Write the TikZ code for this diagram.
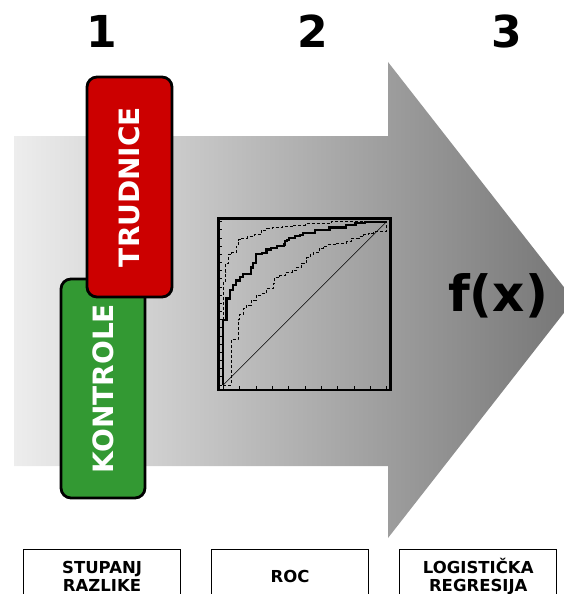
\documentclass[tikz,border=0pt]{standalone}
\usepackage{fontspec}
\setmainfont{DejaVu Sans}
\usetikzlibrary{positioning}

\definecolor{redbox}{RGB}{204,0,0}
\definecolor{greenbox}{RGB}{51,153,51}

\tikzset{
  numlabel/.style={font=\bfseries\fontsize{44}{44}\selectfont, inner sep=0pt},
  groupbox/.style={draw=black, line width=2.8pt, rounded corners=10pt, rotate=90,
    minimum width=219pt, minimum height=84pt, inner sep=0pt, text=white,
    font=\bfseries\fontsize{28}{28}\selectfont},
  tabbox/.style={draw=black, line width=1.1pt, minimum width=157pt, minimum height=53pt,
    inner sep=0pt, align=center, font=\bfseries\fontsize{16.5}{18}\selectfont},
  rocline/.style={line width=0.6pt, densely dashed}
}

\begin{document}
\begin{tikzpicture}[x=1pt,y=-1pt]
      \useasboundingbox (0,0) rectangle (564,594);

      % big arrow
      \shade[left color=black!7,middle color=black!40,right color=black!54] (14,136) -- (388,136)
        -- (388,62) -- (574,300) -- (388,538) -- (388,466) -- (14,466) -- cycle;

      \node[numlabel] (num1) at (102,31) {1};
      \node[numlabel] (num2) at (313,31) {2};
      \node[numlabel] (num3) at (507,31) {3};

      \node[groupbox,fill=greenbox] (kontrole) at (103,388.5) {KONTROLE};
      \node[groupbox,fill=redbox,minimum width=220pt,minimum height=85pt] (trudnice) at (129.5,187) {TRUDNICE};

      % ROC plot
      \begin{scope}[shift={(223.3,385)},x=163.3pt,y=163.3pt]
        \draw[line width=2.5pt] (-0.03,-0.03) rectangle (1.025,1.02);
        \foreach \i in {0,...,10}
          \draw[line width=0.8pt] ({\i/10},-0.03) -- ({\i/10},-0.008);
        \foreach \i in {0,...,20}
          \draw[line width=0.8pt] (-0.03,{\i/20}) -- (-0.005,{\i/20});

        \draw[line width=0.5pt] (0,0) -- (1,1);

        \draw[rocline] (0,0) |- (0.01,0.63) |- (0.015,0.69) |- (0.03,0.745) |- (0.05,0.80)
          |- (0.08,0.81) |- (0.09,0.85) |- (0.11,0.89) |- (0.15,0.90) |- (0.19,0.91)
          |- (0.235,0.92) |- (0.265,0.95) |- (0.30,0.96) |- (0.36,0.965) |- (0.42,0.97)
          |- (0.50,0.98) |- (0.66,0.99) |- (0.87,1) -- (1,1);

        \draw[rocline] (0,0) -- (0.05,0) |- (0.09,0.28) |- (0.10,0.40) |- (0.12,0.43)
          |- (0.14,0.47) |- (0.17,0.49) |- (0.20,0.52) |- (0.235,0.55) |- (0.265,0.56)
          |- (0.305,0.59) |- (0.315,0.62) |- (0.345,0.66) |- (0.38,0.67) |- (0.42,0.69)
          |- (0.45,0.70) |- (0.48,0.72) |- (0.51,0.745) |- (0.53,0.78) |- (0.55,0.80)
          |- (0.59,0.81) |- (0.61,0.84) |- (0.64,0.85) |- (0.69,0.86) |- (0.755,0.87)
          |- (0.785,0.88) |- (0.83,0.90) |- (0.86,0.91) |- (0.89,0.92) |- (0.92,0.93)
          |- (0.95,0.94) -- (1,0.94) -- (1,1);

        \draw[line width=2.2pt] (0,0) |- (0.02,0.40) |- (0.02,0.50) |- (0.04,0.53) |- (0.06,0.58)
          |- (0.08,0.61) |- (0.10,0.64) |- (0.12,0.66) |- (0.13,0.68) |- (0.17,0.68)
          |- (0.18,0.72) |- (0.20,0.745) |- (0.21,0.80) |- (0.235,0.80) |- (0.265,0.81)
          |- (0.29,0.83) |- (0.33,0.84) |- (0.37,0.85) |- (0.38,0.86) |- (0.39,0.88)
          |- (0.40,0.89) |- (0.44,0.90) |- (0.47,0.91) |- (0.49,0.92) |- (0.56,0.93)
          |- (0.65,0.95) |- (0.75,0.965) |- (0.81,0.98) |- (0.87,0.99) |- (0.93,1) -- (1,1);
      \end{scope}

      \node[font=\bfseries\fontsize{50}{50}\selectfont,inner sep=0pt] (fx) at (498,296) {f(x)};

      % bottom labels
      \node[tabbox,anchor=north west] (stupanj) at (23,549) {STUPANJ\\RAZLIKE};
      \node[tabbox,right=30pt of stupanj] (roc) {ROC};
      \node[tabbox,right=30pt of roc] (logist) {LOGISTIČKA\\REGRESIJA};

  \end{tikzpicture}
\end{document}
